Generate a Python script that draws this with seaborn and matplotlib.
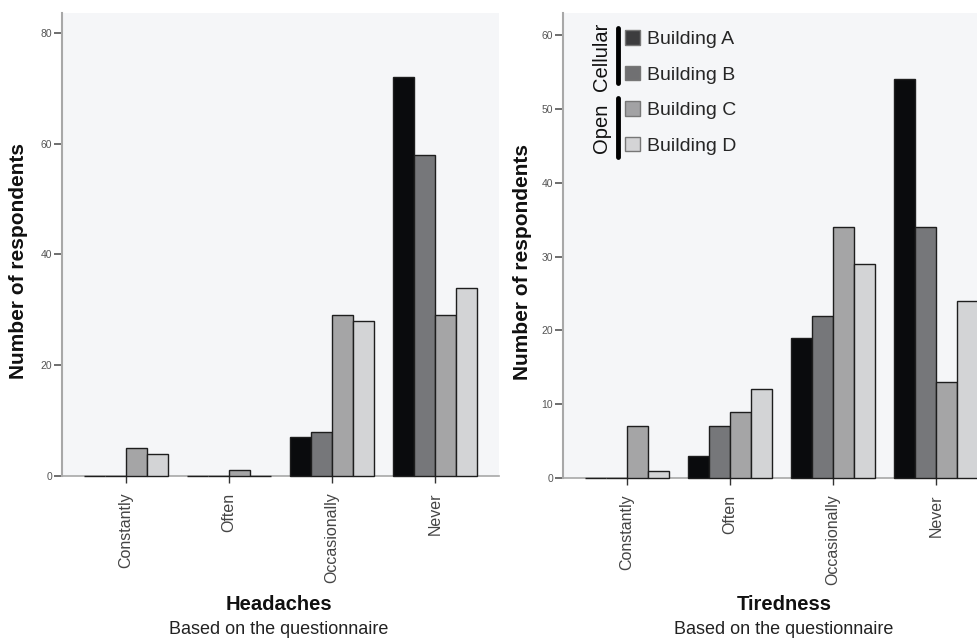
import matplotlib
matplotlib.use("Agg")
import matplotlib.pyplot as plt
import matplotlib.patches as mpatches
import seaborn as sns
import pandas as pd

categories = ["Constantly", "Often", "Occasionally", "Never"]
buildings = ["Building A", "Building B", "Building C", "Building D"]

headaches_A = [0, 0, 7, 72]
headaches_B = [0, 0, 8, 58]
headaches_C = [5, 1, 29, 29]
headaches_D = [4, 0, 28, 34]

tiredness_A = [0, 3, 19, 54]
tiredness_B = [0, 7, 22, 34]
tiredness_C = [7, 9, 34, 13]
tiredness_D = [1, 12, 29, 24]

bar_colors = ["#0a0b0d", "#76777a", "#a5a5a6", "#d3d4d6"]
legend_colors = ["#3c3c3e", "#707072", "#a2a2a4", "#d4d4d6"]


def long_frame(series):
    rows = []
    for b, vals in zip(buildings, series):
        for c, v in zip(categories, vals):
            rows.append({"category": c, "building": b, "count": v})
    return pd.DataFrame(rows)


df_head = long_frame([headaches_A, headaches_B, headaches_C, headaches_D])
df_tired = long_frame([tiredness_A, tiredness_B, tiredness_C, tiredness_D])

sns.set_theme(style="white")
plt.rcParams["font.family"] = ["Liberation Sans", "DejaVu Sans"]

fig = plt.figure(figsize=(9.77, 6.39), dpi=100)
W, H = 977, 639
ax1 = fig.add_axes([62 / W, (H - 476) / H, 437 / W, 463 / H])
ax2 = fig.add_axes([563 / W, (H - 478) / H, 437 / W, 465 / H])


def style(ax, df, ymax, yticks, title, title_x, label_x):
    sns.barplot(data=df, x="category", y="count", hue="building",
                order=categories, hue_order=buildings, palette=bar_colors,
                width=0.82, edgecolor="#1e1e1e", linewidth=1.0,
                saturation=1, legend=False, ax=ax, errorbar=None)
    for p in ax.patches:
        p.set_clip_on(False)
        p.set_zorder(3)
    ax.set_facecolor("#f5f6f8")
    ax.set_xlim(-0.62, 3.62)
    ax.set_ylim(0, ymax)
    ax.set_yticks(yticks)
    ax.set_yticklabels([str(t) for t in yticks], fontsize=7.5, color="#555555")
    ax.set_xticks(range(len(categories)))
    ax.set_xticklabels(categories, rotation=90, fontsize=11.5, color="#444444")
    ax.tick_params(axis="y", which="major", left=True, length=6, width=1.2,
                   color="#555555", pad=1)
    ax.tick_params(axis="x", which="major", bottom=True, length=5, width=1.0,
                   color="#333333", pad=7)
    for s in ["top", "right"]:
        ax.spines[s].set_visible(False)
    ax.spines["left"].set_color("#a8a8a8")
    ax.spines["left"].set_linewidth(1.5)
    ax.spines["bottom"].set_color("#a8a8a8")
    ax.spines["bottom"].set_linewidth(1.2)
    ax.spines["bottom"].set_zorder(1)
    ax.set_xlabel("")
    ax.set_ylabel("Number of respondents", fontsize=15, fontweight="bold",
                  color="#111111")
    ax.yaxis.set_label_coords(label_x, 0.465)
    fig.text(title_x / W, 1 - 605 / H, title, fontsize=14.5, fontweight="bold",
             ha="center", va="center", color="#111111")
    fig.text(title_x / W, 1 - 630 / H, "Based on the questionnaire",
             fontsize=13, ha="center", va="center", color="#222222")


style(ax1, df_head, 83.6, [0, 20, 40, 60, 80], "Headaches", 279, -0.078)
style(ax2, df_tired, 63, [0, 10, 20, 30, 40, 50, 60], "Tiredness", 784, -0.071)

# Legend in right panel
handles = [mpatches.Patch(facecolor=c, edgecolor="#777777", linewidth=1.0)
           for c in legend_colors]
leg = ax2.legend(handles, buildings, loc="upper left",
                 bbox_to_anchor=((625 - 563) / 437, (478 - 30) / 465),
                 frameon=False, fontsize=14, handlelength=0.78,
                 handleheight=0.78, handletextpad=0.35, labelspacing=0.9,
                 borderaxespad=0, borderpad=0)
fig.lines.append(plt.Line2D([618 / W, 618 / W], [1 - 28 / H, 1 - 83 / H],
                            transform=fig.transFigure, color="black", lw=3.5))
fig.lines.append(plt.Line2D([618 / W, 618 / W], [1 - 98 / H, 1 - 157 / H],
                            transform=fig.transFigure, color="black", lw=3.5))
fig.text(602 / W, 1 - 57 / H, "Cellular", rotation=90, fontsize=14.5,
         ha="center", va="center", color="#111111")
fig.text(602 / W, 1 - 128 / H, "Open", rotation=90, fontsize=14.5,
         ha="center", va="center", color="#111111")

fig.savefig("out.png", dpi=100, facecolor="white")
